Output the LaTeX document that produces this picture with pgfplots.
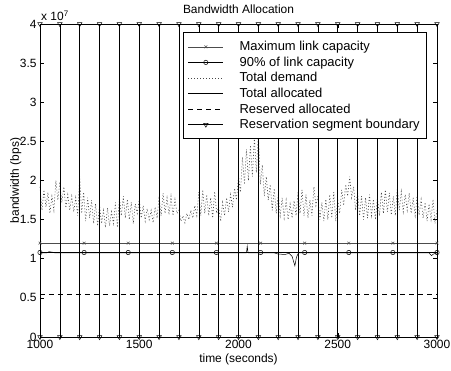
\documentclass[border=0pt]{standalone}
\usepackage{fontspec}
\setmainfont{Liberation Sans}
\usepackage{pgfplots}
\pgfplotsset{compat=1.18}
\begin{document}
\begin{tikzpicture}
\useasboundingbox (-40bp,-34bp) rectangle (411bp,337bp);
\begin{axis}[
  at={(0,0)}, anchor=south west,
  scale only axis, width=397bp, height=313bp,
  xmin=1000, xmax=3000, ymin=0, ymax=4,
  xtick={1000,1500,2000,2500,3000},
  ytick={0,0.5,1,1.5,2,2.5,3,3.5,4},
  yticklabels={0,0.5,1,1.5,2,2.5,3,3.5,4},
  tick align=inside, tick pos=both, major tick length=4bp,
  axis line style={line width=0.6bp},
  every tick/.style={black, line width=0.5bp},
  /pgf/number format/assume math mode=true,
  /pgf/number format/set thousands separator={},
  tick label style={font=\fontsize{12}{14}\selectfont},
  title={Bandwidth Allocation},
  title style={font=\fontsize{12}{14}\selectfont, at={(axis description cs:0.5,1.016)}, anchor=base},
  xlabel={time (seconds)},
  xlabel style={font=\fontsize{12}{14}\selectfont, at={(axis description cs:0.5,-0.0799)}, anchor=base},
  ylabel={bandwidth (bps)},
  ylabel style={font=\fontsize{12}{14}\selectfont, at={(axis description cs:-0.0529,0.5)}, anchor=base, rotate=0},
  clip=false,
  legend image code/.code={\draw[mark repeat=2,mark phase=2,#1] plot coordinates {(0bp,0bp) (17.5bp,0bp) (35bp,0bp)};},
  legend cell align=left,
  legend style={at={(axis description cs:0.975,0.973)}, anchor=north east,
    draw=black, line width=0.9bp, fill=white,
    font=\fontsize{13}{15}\selectfont,
    inner xsep=5bp, inner ysep=6.5bp, row sep=0.7bp, column sep=14bp},
]
% Maximum link capacity
\addplot[black!70, line width=0.5bp, mark=x, mark size=2bp, mark options={solid, line width=0.5bp}]
  coordinates {(1000,1.2) (1222.2,1.2) (1444.4,1.2) (1666.7,1.2) (1888.9,1.2) (2111.1,1.2) (2333.3,1.2) (2555.6,1.2) (2777.8,1.2) (3000,1.2)};
\addlegendentry{Maximum link capacity}
% 90% of link capacity
\addplot[black, line width=0.5bp, mark=o, mark size=2.2bp, mark options={solid, line width=0.5bp}]
  coordinates {(1000,1.08) (1222.2,1.08) (1444.4,1.08) (1666.7,1.08) (1888.9,1.08) (2111.1,1.08) (2333.3,1.08) (2555.6,1.08) (2777.8,1.08) (3000,1.08)};
\addlegendentry{90\% of link capacity}
% Total demand
\addplot[black!72, line width=0.6bp, dash pattern=on 1bp off 2bp] coordinates {
(1000,1.92) (1010,1.62) (1020,1.88) (1030,1.66) (1040,1.85) (1050,1.58) (1060,1.80) (1070,1.62) (1080,2.00) (1090,1.75)
(1100,1.98) (1110,1.72) (1120,1.92) (1130,1.65) (1140,1.82) (1150,1.62) (1160,1.80) (1170,1.60) (1180,1.78) (1190,1.55)
(1200,2.05) (1210,1.58) (1220,1.85) (1230,1.48) (1240,1.78) (1250,1.52) (1260,1.75) (1270,1.45) (1280,1.70) (1290,1.42)
(1300,1.68) (1310,1.45) (1320,1.62) (1330,1.40) (1340,1.65) (1350,1.42) (1360,1.60) (1370,1.45) (1380,1.72) (1390,1.40)
(1400,1.78) (1410,1.55) (1420,1.80) (1430,1.52) (1440,1.76) (1450,1.50) (1460,1.72) (1470,1.45) (1480,1.70) (1490,1.58)
(1500,1.75) (1510,1.52) (1520,1.68) (1530,1.48) (1540,1.64) (1550,1.50) (1560,1.62) (1570,1.46) (1580,1.66) (1590,1.52)
(1600,1.80) (1610,1.55) (1620,1.84) (1630,1.58) (1640,1.78) (1650,1.56) (1660,1.80) (1670,1.55) (1680,1.76) (1690,1.58)
(1700,1.62) (1710,1.48) (1720,1.55) (1730,1.46) (1740,1.58) (1750,1.50) (1760,1.62) (1770,1.52) (1780,1.68) (1790,1.55)
(1800,1.85) (1810,1.55) (1820,1.88) (1830,1.58) (1840,1.82) (1850,1.55) (1860,1.78) (1870,1.52) (1880,1.86) (1890,1.58)
(1900,1.66) (1910,1.48) (1920,1.72) (1930,1.55) (1940,1.78) (1950,1.60) (1960,1.82) (1970,1.66) (1980,1.90) (1990,1.75)
(2000,2.05) (2010,1.85) (2020,2.30) (2030,1.95) (2040,2.40) (2050,2.00) (2060,2.45) (2070,2.05) (2080,2.55) (2090,2.10)
(2100,2.62) (2110,1.95) (2120,2.20) (2130,1.80) (2140,2.05) (2150,1.75) (2160,1.95) (2170,1.62) (2180,1.90) (2190,1.58)
(2200,1.82) (2210,1.55) (2220,1.78) (2230,1.52) (2240,1.75) (2250,1.50) (2260,1.70) (2270,1.52) (2280,1.74) (2290,1.55)
(2300,1.85) (2310,1.58) (2320,1.88) (2330,1.55) (2340,1.82) (2350,1.52) (2360,1.75) (2370,1.55) (2380,1.92) (2390,1.68)
(2400,1.80) (2410,1.50) (2420,1.72) (2430,1.48) (2440,1.76) (2450,1.50) (2460,1.82) (2470,1.52) (2480,1.85) (2490,1.48)
(2500,1.75) (2510,1.58) (2520,1.88) (2530,1.68) (2540,1.95) (2550,1.80) (2560,2.05) (2570,1.78) (2580,1.92) (2590,1.62)
(2600,1.85) (2610,1.55) (2620,1.80) (2630,1.50) (2640,1.78) (2650,1.52) (2660,1.82) (2670,1.55) (2680,1.76) (2690,1.50)
(2700,1.78) (2710,1.55) (2720,1.85) (2730,1.58) (2740,1.88) (2750,1.60) (2760,1.84) (2770,1.56) (2780,1.80) (2790,1.55)
(2800,1.90) (2810,1.62) (2820,1.86) (2830,1.60) (2840,1.82) (2850,1.62) (2860,1.84) (2870,1.58) (2880,1.78) (2890,1.55)
(2900,1.80) (2910,1.56) (2920,1.76) (2930,1.52) (2940,1.72) (2950,1.48) (2960,1.70) (2970,1.50) (2980,1.76) (2990,1.45)
(3000,1.62)};
\addlegendentry{Total demand}
% Total allocated
\addplot[black, line width=0.5bp] coordinates {
(1000,1.075) (1035,1.075) (1045,1.09) (1060,1.085) (1075,1.075) (2040,1.075) (2044,1.16) (2048,1.075)
(2180,1.075) (2200,1.06) (2235,1.055) (2255,1.07) (2270,1.03) (2284,0.91) (2292,1.02) (2302,1.075)
(2960,1.075) (2972,1.04) (2982,1.06) (3000,1.075)};
\addlegendentry{Total allocated}
% Reserved allocated
\addplot[black, line width=0.5bp, dash pattern=on 5bp off 4bp] coordinates {(1000,0.54) (3000,0.54)};
\addlegendentry{Reserved allocated}
% Reservation segment boundary
\addplot[black, line width=0.6bp, mark=triangle, mark size=2.6bp, mark options={solid, rotate=180, fill=white, line width=0.5bp}, unbounded coords=jump] coordinates {
(1000,0) (1000,4) (1000,nan) (1100,0) (1100,4) (1100,nan) (1200,0) (1200,4) (1200,nan)
(1300,0) (1300,4) (1300,nan) (1400,0) (1400,4) (1400,nan) (1500,0) (1500,4) (1500,nan)
(1600,0) (1600,4) (1600,nan) (1700,0) (1700,4) (1700,nan) (1800,0) (1800,4) (1800,nan)
(1900,0) (1900,4) (1900,nan) (2000,0) (2000,4) (2000,nan) (2100,0) (2100,4) (2100,nan)
(2200,0) (2200,4) (2200,nan) (2300,0) (2300,4) (2300,nan) (2400,0) (2400,4) (2400,nan)
(2500,0) (2500,4) (2500,nan) (2600,0) (2600,4) (2600,nan) (2700,0) (2700,4) (2700,nan)
(2800,0) (2800,4) (2800,nan) (2900,0) (2900,4) (2900,nan) (3000,0) (3000,4)};
\addlegendentry{Reservation segment boundary}
\node[anchor=base west, font=\fontsize{12}{14}\selectfont, inner sep=0pt] at ([xshift=1bp,yshift=3bp]rel axis cs:0,1) {x 10\textsuperscript{7}};
\end{axis}
\end{tikzpicture}
\end{document}
